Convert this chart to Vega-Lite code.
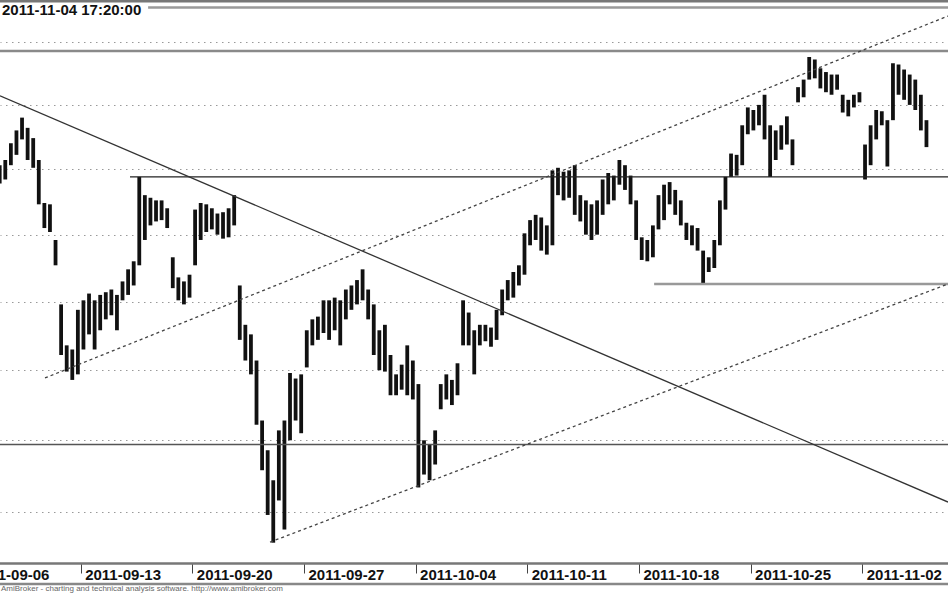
{
  "$schema": "https://vega.github.io/schema/vega-lite/v6.json",
  "width": 948,
  "height": 563,
  "autosize": {"type": "none"},
  "padding": {"left": 0, "top": 0, "right": 0, "bottom": 30},
  "background": "white",
  "config": {"view": {"stroke": null}},
  "datasets": {
    "bars": [
      {"t":1.375,"hi":2353,"lo":2339},{"t":1.625,"hi":2357,"lo":2342},{"t":1.875,"hi":2370,"lo":2353},
      {"t":2.125,"hi":2380,"lo":2361},{"t":2.375,"hi":2390,"lo":2373},{"t":2.625,"hi":2382,"lo":2357},{"t":2.875,"hi":2374,"lo":2351},
      {"t":3.125,"hi":2357,"lo":2323},{"t":3.375,"hi":2324,"lo":2305},{"t":3.625,"hi":2323,"lo":2302},{"t":3.875,"hi":2296,"lo":2277},
      {"t":4.125,"hi":2248,"lo":2211},{"t":4.375,"hi":2218,"lo":2199},{"t":4.625,"hi":2215,"lo":2193},{"t":4.875,"hi":2244,"lo":2197},
      {"t":5.125,"hi":2251,"lo":2215},{"t":5.375,"hi":2256,"lo":2226},{"t":5.625,"hi":2251,"lo":2215},{"t":5.875,"hi":2255,"lo":2229},
      {"t":6.125,"hi":2257,"lo":2237},{"t":6.375,"hi":2259,"lo":2240},{"t":6.625,"hi":2255,"lo":2229},{"t":6.875,"hi":2265,"lo":2251},
      {"t":7.125,"hi":2274,"lo":2255},{"t":7.375,"hi":2280,"lo":2262},{"t":7.625,"hi":2344,"lo":2277},{"t":7.875,"hi":2330,"lo":2296},
      {"t":8.125,"hi":2328,"lo":2307},{"t":8.375,"hi":2326,"lo":2310},{"t":8.625,"hi":2326,"lo":2311},{"t":8.875,"hi":2320,"lo":2305},
      {"t":9.125,"hi":2283,"lo":2260},{"t":9.375,"hi":2268,"lo":2251},{"t":9.625,"hi":2265,"lo":2248},{"t":9.875,"hi":2270,"lo":2253},
      {"t":10.125,"hi":2319,"lo":2277},{"t":10.375,"hi":2324,"lo":2296},{"t":10.625,"hi":2323,"lo":2302},{"t":10.875,"hi":2320,"lo":2304},
      {"t":11.125,"hi":2316,"lo":2300},{"t":11.375,"hi":2317,"lo":2297},{"t":11.625,"hi":2320,"lo":2298},{"t":11.875,"hi":2330,"lo":2307},
      {"t":12.125,"hi":2262,"lo":2222},{"t":12.375,"hi":2233,"lo":2207},{"t":12.625,"hi":2226,"lo":2197},{"t":12.875,"hi":2207,"lo":2161},
      {"t":13.125,"hi":2164,"lo":2129},{"t":13.375,"hi":2143,"lo":2098},{"t":13.625,"hi":2122,"lo":2079},{"t":13.875,"hi":2157,"lo":2108},
      {"t":14.125,"hi":2164,"lo":2088},{"t":14.375,"hi":2198,"lo":2150},{"t":14.625,"hi":2194,"lo":2164},{"t":14.875,"hi":2197,"lo":2155},
      {"t":15.125,"hi":2229,"lo":2202},{"t":15.375,"hi":2237,"lo":2218},{"t":15.625,"hi":2239,"lo":2222},{"t":15.875,"hi":2251,"lo":2227},
      {"t":16.125,"hi":2251,"lo":2222},{"t":16.375,"hi":2253,"lo":2229},{"t":16.625,"hi":2251,"lo":2218},{"t":16.875,"hi":2259,"lo":2237},
      {"t":17.125,"hi":2262,"lo":2244},{"t":17.375,"hi":2266,"lo":2248},{"t":17.625,"hi":2274,"lo":2251},{"t":17.875,"hi":2259,"lo":2237},
      {"t":18.125,"hi":2248,"lo":2211},{"t":18.375,"hi":2229,"lo":2200},{"t":18.625,"hi":2233,"lo":2199},{"t":18.875,"hi":2211,"lo":2182},
      {"t":19.125,"hi":2197,"lo":2182},{"t":19.375,"hi":2204,"lo":2186},{"t":19.625,"hi":2218,"lo":2182},{"t":19.875,"hi":2207,"lo":2179},
      {"t":20.125,"hi":2190,"lo":2117},{"t":20.375,"hi":2150,"lo":2126},{"t":20.625,"hi":2147,"lo":2122},{"t":20.875,"hi":2157,"lo":2133},
      {"t":21.125,"hi":2190,"lo":2172},{"t":21.375,"hi":2197,"lo":2179},{"t":21.625,"hi":2193,"lo":2175},{"t":21.875,"hi":2205,"lo":2182},
      {"t":22.125,"hi":2251,"lo":2218},{"t":22.375,"hi":2242,"lo":2218},{"t":22.625,"hi":2229,"lo":2197},{"t":22.875,"hi":2233,"lo":2218},
      {"t":23.125,"hi":2233,"lo":2221},{"t":23.375,"hi":2231,"lo":2217},{"t":23.625,"hi":2244,"lo":2222},{"t":23.875,"hi":2259,"lo":2240},
      {"t":24.125,"hi":2266,"lo":2251},{"t":24.375,"hi":2272,"lo":2253},{"t":24.625,"hi":2277,"lo":2262},{"t":24.875,"hi":2301,"lo":2270},
      {"t":25.125,"hi":2311,"lo":2292},{"t":25.375,"hi":2315,"lo":2296},{"t":25.625,"hi":2313,"lo":2288},{"t":25.875,"hi":2307,"lo":2285},
      {"t":26.125,"hi":2349,"lo":2292},{"t":26.375,"hi":2351,"lo":2330},{"t":26.625,"hi":2348,"lo":2326},{"t":26.875,"hi":2349,"lo":2328},
      {"t":27.125,"hi":2353,"lo":2315},{"t":27.375,"hi":2330,"lo":2310},{"t":27.625,"hi":2326,"lo":2300},{"t":27.875,"hi":2323,"lo":2296},
      {"t":28.125,"hi":2326,"lo":2300},{"t":28.375,"hi":2342,"lo":2315},{"t":28.625,"hi":2347,"lo":2323},{"t":28.875,"hi":2345,"lo":2326},
      {"t":29.125,"hi":2357,"lo":2338},{"t":29.375,"hi":2353,"lo":2334},{"t":29.625,"hi":2345,"lo":2323},{"t":29.875,"hi":2326,"lo":2296},
      {"t":30.125,"hi":2298,"lo":2281},{"t":30.375,"hi":2296,"lo":2280},{"t":30.625,"hi":2307,"lo":2283},{"t":30.875,"hi":2330,"lo":2304},
      {"t":31.125,"hi":2338,"lo":2311},{"t":31.375,"hi":2340,"lo":2323},{"t":31.625,"hi":2334,"lo":2315},{"t":31.875,"hi":2326,"lo":2307},
      {"t":32.125,"hi":2309,"lo":2296},{"t":32.375,"hi":2307,"lo":2292},{"t":32.625,"hi":2305,"lo":2288},{"t":32.875,"hi":2288,"lo":2263},
      {"t":33.125,"hi":2283,"lo":2272},{"t":33.375,"hi":2296,"lo":2275},{"t":33.625,"hi":2326,"lo":2292},{"t":33.875,"hi":2344,"lo":2319},
      {"t":34.125,"hi":2362,"lo":2344},{"t":34.375,"hi":2361,"lo":2345},{"t":34.625,"hi":2384,"lo":2353},{"t":34.875,"hi":2398,"lo":2377},
      {"t":35.125,"hi":2396,"lo":2380},{"t":35.375,"hi":2400,"lo":2384},{"t":35.625,"hi":2408,"lo":2373},{"t":35.875,"hi":2384,"lo":2344},
      {"t":36.125,"hi":2380,"lo":2357},{"t":36.375,"hi":2384,"lo":2365},{"t":36.625,"hi":2391,"lo":2369},{"t":36.875,"hi":2373,"lo":2353},
      {"t":37.125,"hi":2414,"lo":2402},{"t":37.375,"hi":2420,"lo":2406},{"t":37.625,"hi":2438,"lo":2420},{"t":37.875,"hi":2436,"lo":2421},
      {"t":38.125,"hi":2429,"lo":2413},{"t":38.375,"hi":2426,"lo":2410},{"t":38.625,"hi":2424,"lo":2408},{"t":38.875,"hi":2424,"lo":2412},
      {"t":39.125,"hi":2408,"lo":2394},{"t":39.375,"hi":2404,"lo":2391},{"t":39.625,"hi":2408,"lo":2398},{"t":39.875,"hi":2410,"lo":2402},
      {"t":40.125,"hi":2369,"lo":2342},{"t":40.375,"hi":2384,"lo":2353},{"t":40.625,"hi":2396,"lo":2373},{"t":40.875,"hi":2395,"lo":2384},
      {"t":41.125,"hi":2388,"lo":2352},{"t":41.375,"hi":2433,"lo":2388},{"t":41.625,"hi":2432,"lo":2408},{"t":41.875,"hi":2428,"lo":2404},
      {"t":42.125,"hi":2424,"lo":2400},{"t":42.375,"hi":2420,"lo":2396},{"t":42.625,"hi":2408,"lo":2380},{"t":42.875,"hi":2388,"lo":2367}
    ]
  },
  "layer": [
    {
      "data": {"name": "bars"},
      "mark": {"type": "rule", "color": "#111", "strokeWidth": 3.8},
      "encoding": {
        "x": {"field": "t", "type": "quantitative", "title": null,
          "scale": {"domain": [0, 43.84], "range": [-31, 948], "nice": false, "zero": false},
          "axis": {"values": [0, 5, 10, 15, 20, 25, 30, 35, 40],
            "labelExpr": "['2011-09-06','2011-09-13','2011-09-20','2011-09-27','2011-10-04','2011-10-11','2011-10-18','2011-10-25','2011-11-02'][round(datum.value/5)]",
            "grid": false, "domainColor": "#777", "domainWidth": 2.5,
            "tickColor": "#444", "tickWidth": 1, "tickSize": 10,
            "labelAlign": "left", "labelOffset": 4, "labelBaseline": "top", "labelPadding": -6,
            "labelFont": "Liberation Sans", "labelFontWeight": "bold", "labelFontSize": 15, "labelColor": "#111",
            "labelOverlap": false, "labelFlush": false, "labelBound": false}},
        "y": {"field": "lo", "type": "quantitative", "title": null,
          "scale": {"type": "log", "domain": [2065.2, 2484.0], "nice": false, "zero": false},
          "axis": {"orient": "right", "values": [2100, 2150, 2200, 2250, 2300, 2350, 2400, 2450],
            "labels": false, "ticks": false, "domain": false, "grid": true,
            "gridColor": "#999", "gridDash": [1.5, 4.5], "gridWidth": 1.2}},
        "y2": {"field": "hi"}
      }
    },
    {
      "data": {"values": [{"t": 0, "t2": 43.84, "p": 2483.2}]},
      "mark": {"type": "rule", "color": "#777", "strokeWidth": 3},
      "encoding": {"x": {"field": "t", "type": "quantitative", "title": null}, "x2": {"field": "t2"}, "y": {"field": "p", "type": "quantitative", "title": null}}
    },
    {
      "data": {"values": [{"t": 8.02, "t2": 43.84, "p": 2477.9}]},
      "mark": {"type": "rule", "color": "#9a9a9a", "strokeWidth": 2.5},
      "encoding": {"x": {"field": "t", "type": "quantitative", "title": null}, "x2": {"field": "t2"}, "y": {"field": "p", "type": "quantitative", "title": null}}
    },
    {
      "data": {"values": [{"t": 0, "t2": 43.84, "p": 2442.8}]},
      "mark": {"type": "rule", "color": "#8a8a8a", "strokeWidth": 2.5},
      "encoding": {"x": {"field": "t", "type": "quantitative", "title": null}, "x2": {"field": "t2"}, "y": {"field": "p", "type": "quantitative", "title": null}}
    },
    {
      "data": {"values": [{"t": 7.21, "t2": 43.84, "p": 2344}]},
      "mark": {"type": "rule", "color": "#222", "strokeWidth": 1.2},
      "encoding": {"x": {"field": "t", "type": "quantitative", "title": null}, "x2": {"field": "t2"}, "y": {"field": "p", "type": "quantitative", "title": null}}
    },
    {
      "data": {"values": [{"t": 30.68, "t2": 43.84, "p": 2263.1}]},
      "mark": {"type": "rule", "color": "#999", "strokeWidth": 2.5},
      "encoding": {"x": {"field": "t", "type": "quantitative", "title": null}, "x2": {"field": "t2"}, "y": {"field": "p", "type": "quantitative", "title": null}}
    },
    {
      "data": {"values": [{"t": 0, "t2": 43.84, "p": 2147.0}]},
      "mark": {"type": "rule", "color": "#555", "strokeWidth": 1.5},
      "encoding": {"x": {"field": "t", "type": "quantitative", "title": null}, "x2": {"field": "t2"}, "y": {"field": "p", "type": "quantitative", "title": null}}
    },
    {
      "data": {"values": [{"t": 0, "t2": 43.84, "p": 2051.0}]},
      "mark": {"type": "rule", "color": "#888", "strokeWidth": 2.5},
      "encoding": {"x": {"field": "t", "type": "quantitative", "title": null}, "x2": {"field": "t2"}, "y": {"field": "p", "type": "quantitative", "title": null}}
    },
    {
      "data": {"values": [{"t": 1.388, "p": 2407.2}, {"t": 43.84, "p": 2106.9}]},
      "mark": {"type": "line", "color": "#333", "strokeWidth": 1.3},
      "encoding": {"x": {"field": "t", "type": "quantitative", "title": null}, "y": {"field": "p", "type": "quantitative", "title": null}}
    },
    {
      "data": {"values": [{"t": 3.403, "p": 2194.4}, {"t": 43.84, "p": 2471.0}]},
      "mark": {"type": "line", "color": "#444", "strokeWidth": 1.3, "strokeDash": [3, 3]},
      "encoding": {"x": {"field": "t", "type": "quantitative", "title": null}, "y": {"field": "p", "type": "quantitative", "title": null}}
    },
    {
      "data": {"values": [{"t": 13.48, "p": 2079.4}, {"t": 43.84, "p": 2263.1}]},
      "mark": {"type": "line", "color": "#444", "strokeWidth": 1.3, "strokeDash": [3, 3]},
      "encoding": {"x": {"field": "t", "type": "quantitative", "title": null}, "y": {"field": "p", "type": "quantitative", "title": null}}
    },
    {
      "data": {"values": [{"t": 1.478, "p": 2475.9, "txt": "2011-11-04 17:20:00"}]},
      "mark": {"type": "text", "align": "left", "baseline": "middle", "font": "Liberation Sans", "fontSize": 15, "fontWeight": "bold", "color": "#111"},
      "encoding": {"x": {"field": "t", "type": "quantitative", "title": null}, "y": {"field": "p", "type": "quantitative", "title": null}, "text": {"field": "txt"}}
    },
    {
      "data": {"values": [{"t": 1.433, "p": 2047.6, "txt": "AmiBroker - charting and technical analysis software. http://www.amibroker.com"}]},
      "mark": {"type": "text", "align": "left", "baseline": "middle", "font": "Liberation Sans", "fontSize": 8, "color": "#666"},
      "encoding": {"x": {"field": "t", "type": "quantitative", "title": null}, "y": {"field": "p", "type": "quantitative", "title": null}, "text": {"field": "txt"}}
    }
  ]
}
